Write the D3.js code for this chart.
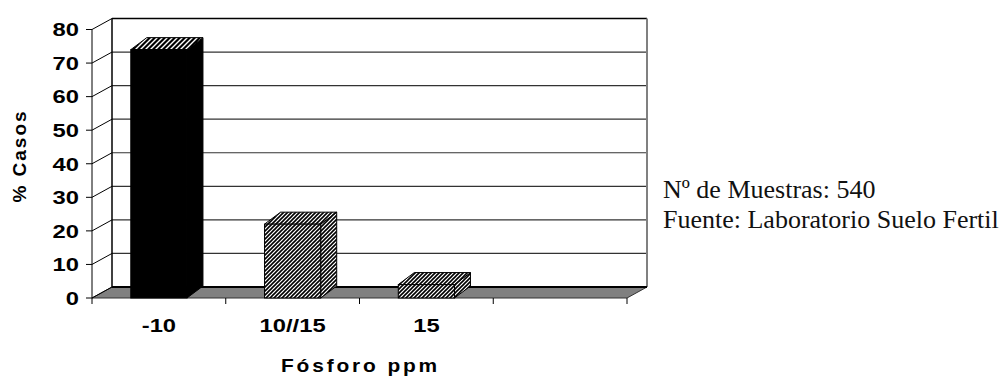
<!DOCTYPE html>
<html><head><meta charset="utf-8">
<script src="https://cdn.jsdelivr.net/npm/d3@7"></script>
<style>html,body{margin:0;padding:0;background:#fff;}svg{display:block;}</style>
</head><body>
<svg id="chart" width="1003" height="380"></svg>
<script>
const categories = ["-10", "10//15", "15", ""];
const values = [74, 22, 4, null];
const yTicks = [0, 10, 20, 30, 40, 50, 60, 70, 80];
const barFills = ["solid", "hatch", "hatch", "hatch"];
const yTitle = "% Casos";
const xTitle = "Fósforo ppm";
const notes = ["Nº de Muestras: 540", "Fuente: Laboratorio Suelo Fertil"];

(function () {
const svg = d3.select("#chart");
const DX = 20, DY = 11;     // wall depth
const BDX = 16, BDY = 12;   // bar depth
const pLeft = 92, pRight = 627, pBottom = 298, pTop = 29.5;
const SX = 1.25;            // horizontal glyph stretch of the bold labels

const x = d3.scaleBand().domain(categories).range([pLeft, pRight]).paddingInner(0.58).paddingOuter(0.29);
const y = d3.scaleLinear().domain([0, 80]).range([pBottom, pTop]);

const defs = svg.append("defs");
const pA = defs.append("pattern").attr("id", "hA").attr("patternUnits", "userSpaceOnUse").attr("width", 4).attr("height", 4);
pA.append("rect").attr("width", 4).attr("height", 4).attr("fill", "#fff");
pA.append("path").attr("d", "M-1,1 l2,-2 M0,4 l4,-4 M3,5 l2,-2").attr("stroke", "#000").attr("stroke-width", 1.6);
const pB = defs.append("pattern").attr("id", "hB").attr("patternUnits", "userSpaceOnUse").attr("width", 5).attr("height", 5);
pB.append("rect").attr("width", 5).attr("height", 5).attr("fill", "#000");
pB.append("path").attr("d", "M-1,1 l2,-2 M0,5 l5,-5 M4,6 l2,-2").attr("stroke", "#fff").attr("stroke-width", 1.4);

// back wall
svg.append("rect").attr("x", pLeft + DX).attr("y", y(80) - DY).attr("width", pRight - pLeft).attr("height", y(0) - y(80))
  .attr("fill", "#fff");
svg.selectAll("line.grid").data(yTicks.filter(d => d > 0)).enter().append("line")
  .attr("x1", pLeft + DX).attr("x2", pRight + DX)
  .attr("y1", d => y(d) - DY).attr("y2", d => y(d) - DY)
  .attr("stroke", d => d === 80 ? "#000" : "#333").attr("stroke-width", d => d === 80 ? 1.5 : 1.2);
svg.selectAll("line.diag").data(yTicks.filter(d => d > 0)).enter().append("line")
  .attr("x1", pLeft).attr("x2", pLeft + DX)
  .attr("y1", d => y(d)).attr("y2", d => y(d) - DY)
  .attr("stroke", "#000").attr("stroke-width", 1);
svg.append("line").attr("x1", pLeft + DX).attr("x2", pLeft + DX).attr("y1", y(80) - DY).attr("y2", y(0) - DY)
  .attr("stroke", "#000").attr("stroke-width", 1.5);
svg.append("line").attr("x1", pRight + DX).attr("x2", pRight + DX).attr("y1", y(80) - DY).attr("y2", y(0) - DY)
  .attr("stroke", "#808080").attr("stroke-width", 2);
svg.append("line").attr("x1", pLeft).attr("x2", pLeft).attr("y1", y(80)).attr("y2", y(0))
  .attr("stroke", "#000").attr("stroke-width", 1);

// floor
svg.append("path")
  .attr("d", `M${pLeft},${y(0)} L${pRight},${y(0)} L${pRight + DX},${y(0) - DY} L${pLeft + DX},${y(0) - DY} Z`)
  .attr("fill", "#808080").attr("stroke", "#333").attr("stroke-width", 1);
svg.append("line").attr("x1", pLeft + DX).attr("x2", pRight + DX).attr("y1", y(0) - DY).attr("y2", y(0) - DY)
  .attr("stroke", "#000").attr("stroke-width", 2);
svg.append("line").attr("x1", pLeft).attr("x2", pLeft + DX).attr("y1", y(0)).attr("y2", y(0) - DY)
  .attr("stroke", "#000").attr("stroke-width", 1);

// bars
const bw = x.bandwidth();
const data = categories.map((c, i) => ({ c, v: values[i], fill: barFills[i] })).filter(d => d.v != null);
const g = svg.selectAll("g.bar").data(data).enter().append("g");
g.append("path")
  .attr("d", d => { const x0 = x(d.c) + bw, y0 = y(0), y1 = y(d.v);
    return `M${x0},${y0} L${x0 + BDX},${y0 - BDY} L${x0 + BDX},${y1 - BDY} L${x0},${y1} Z`; })
  .attr("fill", d => d.fill === "solid" ? "#000" : "url(#hA)").attr("stroke", "#000").attr("stroke-width", 1);
g.append("path")
  .attr("d", d => { const x0 = x(d.c), y1 = y(d.v);
    return `M${x0},${y1} L${x0 + BDX},${y1 - BDY} L${x0 + bw + BDX},${y1 - BDY} L${x0 + bw},${y1} Z`; })
  .attr("fill", d => d.fill === "solid" ? "url(#hB)" : "url(#hA)").attr("stroke", "#000").attr("stroke-width", 1);
g.append("rect")
  .attr("x", d => x(d.c)).attr("y", d => y(d.v)).attr("width", bw).attr("height", d => y(0) - y(d.v))
  .attr("fill", d => d.fill === "solid" ? "#000" : "url(#hA)").attr("stroke", "#000").attr("stroke-width", 1);

// y ticks and labels
svg.selectAll("line.ytick").data(yTicks).enter().append("line")
  .attr("x1", pLeft - 6).attr("x2", pLeft).attr("y1", d => y(d)).attr("y2", d => y(d))
  .attr("stroke", "#000");
const font = "'Liberation Sans', Arial, sans-serif";
svg.selectAll("text.ytl").data(yTicks).enter().append("text")
  .attr("transform", d => `translate(79,${y(d)}) scale(${SX},1)`).attr("dy", "0.36em")
  .attr("text-anchor", "end").attr("font-family", font).attr("font-weight", "bold")
  .attr("font-size", 19).text(d => d);

// x ticks
const boundaries = d3.range(categories.length + 1).map(i => pLeft + i * x.step());
svg.selectAll("line.xtick").data(boundaries).enter().append("line")
  .attr("x1", d => d).attr("x2", d => d).attr("y1", y(0)).attr("y2", y(0) + 6)
  .attr("stroke", "#000");
svg.selectAll("text.xtl").data(categories).enter().append("text")
  .attr("transform", d => `translate(${x(d) + bw / 2},332) scale(${SX},1)`)
  .attr("text-anchor", "middle").attr("font-family", font).attr("font-weight", "bold")
  .attr("font-size", 19).text(d => d);

// titles
svg.append("text").attr("transform", "translate(26,156) rotate(-90)")
  .attr("text-anchor", "middle").attr("font-family", font).attr("font-weight", "bold")
  .attr("font-size", 19).attr("letter-spacing", 2).text(yTitle);
svg.append("text").attr("transform", `translate(${(pLeft + pRight) / 2 + 1},372) scale(1.1,1)`)
  .attr("text-anchor", "middle").attr("font-family", font).attr("font-weight", "bold")
  .attr("font-size", 19).attr("letter-spacing", 2.6).text(xTitle);

// notes
svg.selectAll("text.note").data(notes).enter().append("text")
  .attr("x", 663).attr("y", (d, i) => 198 + i * 30)
  .attr("font-family", "'Liberation Serif', 'Times New Roman', serif").attr("font-size", 26)
  .attr("fill", "#111").text(d => d);
})();
</script>
</body></html>
